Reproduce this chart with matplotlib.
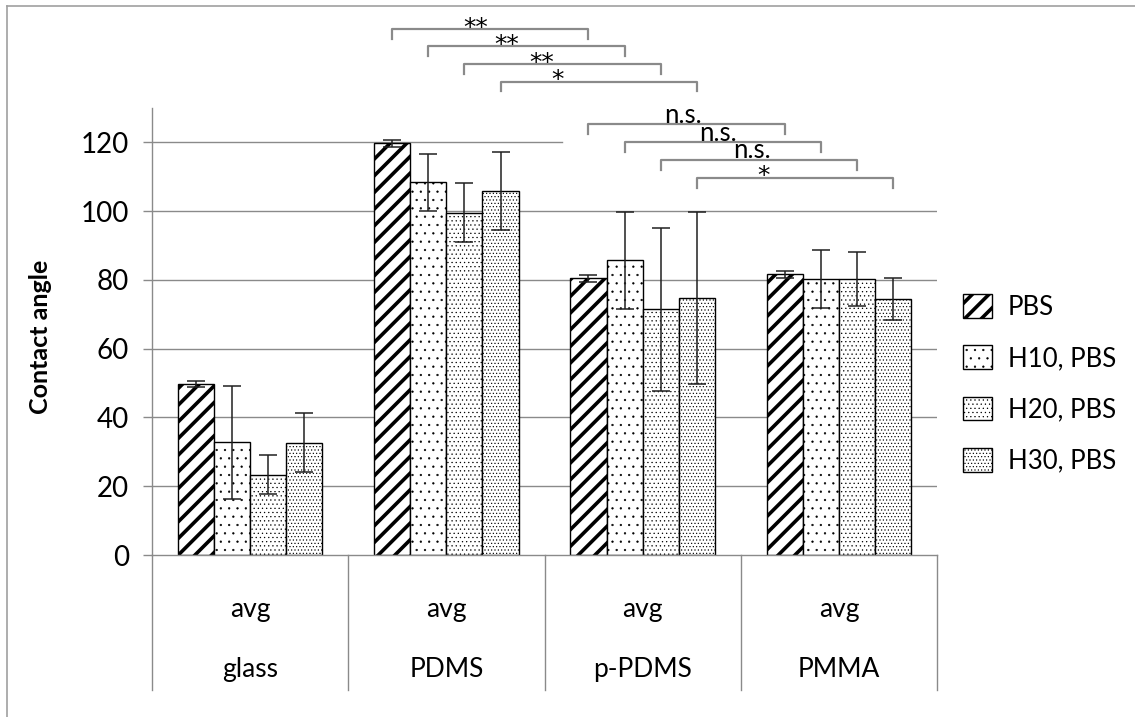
import numpy as np
import matplotlib.pyplot as plt
from matplotlib.lines import Line2D

materials = ['glass', 'PDMS', 'p-PDMS', 'PMMA']
sub_label = 'avg'
series = ['PBS', 'H10, PBS', 'H20, PBS', 'H30, PBS']
values = [
    [49.8, 119.8, 80.5, 81.6],   # PBS
    [32.8, 108.4, 85.7, 80.2],   # H10, PBS
    [23.4, 99.6, 71.4, 80.2],    # H20, PBS
    [32.6, 105.8, 74.8, 74.4],   # H30, PBS
]
errors = [
    [0.8, 1.0, 1.0, 1.0],
    [16.4, 8.3, 14.1, 8.4],
    [5.6, 8.5, 23.6, 7.9],
    [8.6, 11.3, 25.0, 6.1],
]
# significance brackets, one per series
sig_pdms = ['**', '**', '**', '*']         # PDMS vs p-PDMS
sig_ppdms = ['n.s.', 'n.s.', 'n.s.', '*']  # p-PDMS vs PMMA

plt.rcParams['font.family'] = ['Lato', 'DejaVu Sans']
GRAY = '#8a8a8a'

fig = plt.figure(figsize=(11.35, 7.17), dpi=100)
ax = fig.add_axes([152 / 1135, 162 / 717, 785 / 1135, 447 / 717])

x = np.arange(len(materials))
w = 0.184
hatches = ['//', '..', '....', '.....']
hlw = [2.6, 0.4, 0.4, 0.45]

# gridlines (the top one is partly hidden by the bracket box)
for yv in [20, 40, 60, 80, 100]:
    ax.axhline(yv, color=GRAY, lw=1.0, zorder=0)
ax.axhline(120, xmax=(562 - 152) / 785, color=GRAY, lw=1.0, zorder=0)

for i, s in enumerate(series):
    pos = x + (i - 1.5) * w
    b = ax.bar(pos, values[i], w, color='white', edgecolor='black', lw=1.0,
               hatch=hatches[i], label=s, zorder=2)
    for p in b.patches:
        if hasattr(p, 'set_hatch_linewidth'):
            p.set_hatch_linewidth(hlw[i])
    ax.errorbar(pos, values[i], yerr=errors[i], fmt='none', ecolor='#202020',
                elinewidth=1.1, capsize=6.5, capthick=1.1, zorder=3)

ax.set_xlim(-0.5, 3.5)
ax.set_ylim(0, 130)
ax.set_yticks([0, 20, 40, 60, 80, 100, 120])
ax.tick_params(axis='y', length=6.5, width=1.0, color=GRAY, pad=10, labelsize=20)
ax.set_xticks([])
for sp in ['top', 'right']:
    ax.spines[sp].set_visible(False)
for sp in ['left', 'bottom']:
    ax.spines[sp].set_color(GRAY)
    ax.spines[sp].set_linewidth(1.0)

ax.set_ylabel('Contact angle', fontsize=18, fontweight='bold')
ax.yaxis.set_label_coords(-0.127, 0.488)

# two-level category axis
tr = ax.get_xaxis_transform()
for k in range(len(materials) + 1):
    ax.plot([k - 0.5, k - 0.5], [0, -0.302], transform=tr, color=GRAY,
            lw=1.0, clip_on=False)
for k, m in enumerate(materials):
    ax.text(k, -0.121, sub_label, transform=tr, ha='center', va='center', fontsize=19)
    ax.text(k, -0.257, m, transform=tr, ha='center', va='center', fontsize=19)


def bracket(g1, g2, i, y, label, dx):
    x1 = g1 + (i - 1.5) * w
    x2 = g2 + (i - 1.5) * w
    ax.plot([x1, x1, x2, x2], [y - 2.9, y, y, y - 2.9], color=GRAY, lw=1.6,
            clip_on=False, zorder=4)
    if label == 'n.s.':
        ax.text((x1 + x2) / 2 + dx, y + 2.6, label, ha='center', va='center',
                fontsize=18.5, clip_on=False, zorder=5)
    else:
        ax.text((x1 + x2) / 2 + dx, y + 0.4, label, ha='center', va='center',
                fontsize=18, family=['DejaVu Sans'], clip_on=False, zorder=5)


dx_a = [-0.074, -0.102, -0.107, -0.209]
dx_b = [-0.018, -0.026, -0.036, -0.161]
for i in range(4):
    bracket(1, 2, i, 153.0 - i * 5.1, sig_pdms[i], dx_a[i])
    bracket(2, 3, i, 125.3 - i * 5.2, sig_ppdms[i], dx_b[i])

leg = ax.legend(loc='upper left', bbox_to_anchor=(963 / 1135, 1 - 294 / 717),
                bbox_transform=fig.transFigure, frameon=False, fontsize=18.5,
                handlelength=1.14, handleheight=1.04, handletextpad=0.6,
                labelspacing=1.0, borderpad=0, borderaxespad=0)
for p, lw in zip(leg.get_patches(), hlw):
    if hasattr(p, 'set_hatch_linewidth'):
        p.set_hatch_linewidth(lw)

# outer chart border (left and top only visible)
fig.add_artist(Line2D([7 / 1135, 7 / 1135], [0, 1 - 6 / 717], color='#a0a0a0', lw=1.2))
fig.add_artist(Line2D([7 / 1135, 1], [1 - 6 / 717, 1 - 6 / 717], color='#a0a0a0', lw=1.2))

fig.savefig('out.png', dpi=100)
